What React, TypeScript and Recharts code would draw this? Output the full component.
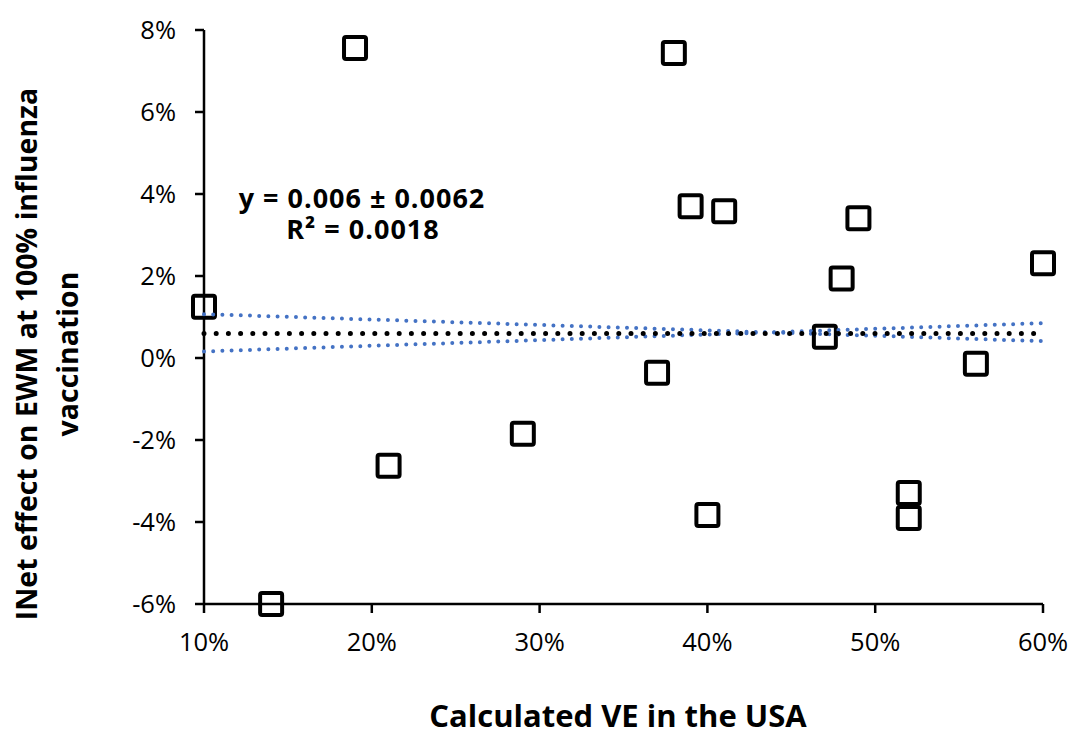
import React from 'react';
import { ScatterChart, Scatter, XAxis, YAxis } from 'recharts';

// Calculated VE in the USA (%) and net effect on EWM (%)
const veUsa = [10, 19, 14, 21, 29, 37, 38, 39, 41, 40, 47, 48, 49, 52, 52, 56, 60];
const netEffect = [1.25, 7.56, -6.0, -2.63, -1.85, -0.36, 7.44, 3.7, 3.58, -3.83, 0.52, 1.94, 3.41, -3.29, -3.9, -0.14, 2.31];

// trend line and its band
const trendX = [10, 60];
const trendY = [0.6, 0.6];
const bandA = [1.07, 0.41];
const bandB = [0.16, 0.85];

const xTicks = [10, 20, 30, 40, 50, 60];
const yTicks = [-6, -4, -2, 0, 2, 4, 6, 8];

const FONT = '"Open Sans", sans-serif';

const points = veUsa.map((x, i) => ({ x, y: netEffect[i] }));
const toLine = (ys: number[]) => trendX.map((x, i) => ({ x, y: ys[i] }));

const SquareMarker = (props: any) => {
  const { cx, cy } = props;
  if (cx == null || cy == null) return <g />;
  return <rect x={cx - 11} y={cy - 11} width={22} height={22} rx={2} fill="none" stroke="#000" strokeWidth={4} />;
};

const NoMarker = () => <g />;

export default function App() {
  const tickStyle = { fill: '#000', fontSize: 25.5, fontFamily: FONT };
  return (
    <div style={{ position: 'fixed', left: 0, top: 0, width: 1072, height: 731, background: '#fff' }}>
      <ScatterChart width={1072} height={731} margin={{ top: 30, right: 29, left: 104, bottom: 67 }}>
        <XAxis
          type="number"
          dataKey="x"
          domain={[10, 60]}
          ticks={xTicks}
          tickFormatter={(v) => `${v}%`}
          height={60}
          tick={tickStyle}
          tickSize={9}
          tickMargin={20}
          axisLine={{ stroke: '#000', strokeWidth: 2.5 }}
          tickLine={{ stroke: '#000', strokeWidth: 2.5 }}
        />
        <YAxis
          type="number"
          dataKey="y"
          domain={[-6, 8]}
          ticks={yTicks}
          tickFormatter={(v) => `${v}%`}
          width={100}
          tick={tickStyle}
          tickSize={9}
          tickMargin={19}
          axisLine={{ stroke: '#000', strokeWidth: 2.5 }}
          tickLine={{ stroke: '#000', strokeWidth: 2.5 }}
        />
        <Scatter data={points} shape={SquareMarker} isAnimationActive={false} />
        <Scatter
          data={toLine(bandA)}
          fill="none"
          shape={NoMarker}
          line={{ stroke: '#4472C4', strokeWidth: 4, strokeDasharray: '0 9.2', strokeLinecap: 'round', fill: 'none' }}
          isAnimationActive={false}
        />
        <Scatter
          data={toLine(bandB)}
          fill="none"
          shape={NoMarker}
          line={{ stroke: '#4472C4', strokeWidth: 4, strokeDasharray: '0 9.2', strokeLinecap: 'round', fill: 'none' }}
          isAnimationActive={false}
        />
        <Scatter
          data={toLine(trendY)}
          fill="none"
          shape={NoMarker}
          line={{ stroke: '#000', strokeWidth: 5, strokeDasharray: '0 12.2', strokeLinecap: 'round', fill: 'none' }}
          isAnimationActive={false}
        />
      </ScatterChart>
      {/* titles and trendline equation */}
      <svg width={1072} height={731} style={{ position: 'absolute', left: 0, top: 0, pointerEvents: 'none' }}>
        <g fontFamily={FONT} fontWeight="bold" fill="#000">
          <text x={618} y={727} textAnchor="middle" fontSize={31}>Calculated VE in the USA</text>
          <text transform="translate(37,354) rotate(-90)" textAnchor="middle" fontSize={28.5}>INet effect on EWM at 100% influenza</text>
          <text transform="translate(78,354) rotate(-90)" textAnchor="middle" fontSize={28.5}>vaccination</text>
          <text x={362} y={208} textAnchor="middle" fontSize={27} letterSpacing={1}>y = 0.006 ± 0.0062</text>
          <text x={363} y={239} textAnchor="middle" fontSize={27} letterSpacing={1}>R² = 0.0018</text>
        </g>
      </svg>
    </div>
  );
}
